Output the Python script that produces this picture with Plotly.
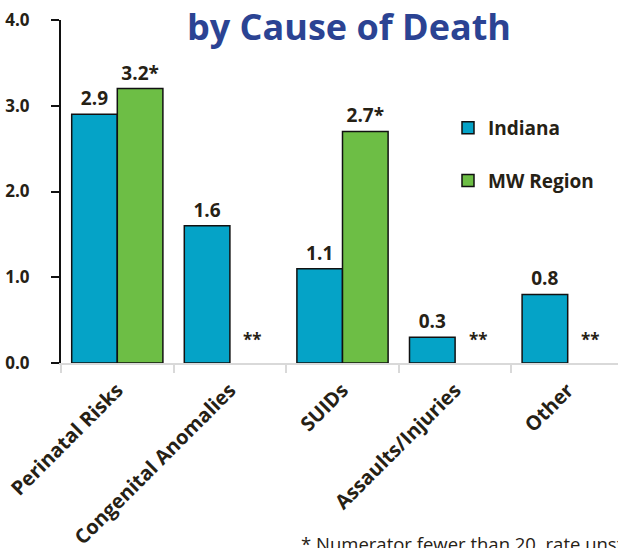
import plotly.graph_objects as go

categories = ["Perinatal Risks", "Congenital Anomalies", "SUIDs", "Assaults/Injuries", "Other"]
indiana = [2.9, 1.6, 1.1, 0.3, 0.8]
indiana_labels = ["2.9", "1.6", "1.1", "0.3", "0.8"]
mw_region = [3.2, None, 2.7, None, None]
mw_labels = ["3.2*", "", "2.7*", "", ""]
suppressed_label = "**"
y_ticks = [0, 1, 2, 3, 4]
y_tick_labels = ["0.0", "1.0", "2.0", "3.0", "4.0"]

TXT = "#262115"
BLUE = "#05A3C7"
GREEN = "#6DBE45"
FONT = "Open Sans"

fig = go.Figure()
fig.add_trace(go.Bar(
    name="Indiana", x=categories, y=indiana, text=indiana_labels,
    textposition="outside", cliponaxis=False,
    textfont=dict(family=FONT, size=19, color=TXT, weight="bold"),
    marker=dict(color=BLUE, line=dict(color="#111111", width=1.5)),
    legendgroup="a",
))
fig.add_trace(go.Bar(
    name="MW Region", x=categories, y=mw_region, text=mw_labels,
    textposition="outside", cliponaxis=False,
    textfont=dict(family=FONT, size=19, color=TXT, weight="bold"),
    marker=dict(color=GREEN, line=dict(color="#111111", width=1.5)),
    legendgroup="b",
))

annotations = []
for cat, v in zip(categories, mw_region):
    if v is None:
        annotations.append(dict(
            x=cat, y=0, xref="x", yref="y", text=suppressed_label, showarrow=False,
            xshift=23, yanchor="bottom", yshift=10,
            font=dict(family=FONT, size=17, color=TXT, weight="bold"),
        ))

annotations.append(dict(
    x=(349 - 61) / 557, y=(363 - 26) / 343, xref="paper", yref="paper",
    text="by Cause of Death", showarrow=False, xanchor="center", yanchor="middle",
    font=dict(family=FONT, size=36, color="#2B4393", weight="bold"),
))
annotations.append(dict(
    x=(299 - 61) / 557, y=(363 - 529) / 343, xref="paper", yref="paper",
    text="* Numerator fewer than 20, rate unstable", showarrow=False,
    xanchor="left", yanchor="top",
    font=dict(family=FONT, size=18.5, color=TXT),
))

fig.update_layout(
    width=618, height=548,
    margin=dict(l=61, r=0, t=20, b=185),
    paper_bgcolor="white", plot_bgcolor="white",
    barmode="group", bargap=0.19, bargroupgap=0,
    showlegend=True,
    legend=dict(
        x=(448 - 61) / 557, y=(363 - 109) / 343, xanchor="left", yanchor="top",
        font=dict(family=FONT, size=19, color=TXT, weight="bold"),
        tracegroupgap=25, traceorder="grouped", bgcolor="rgba(0,0,0,0)",
    ),
    annotations=annotations,
    xaxis=dict(
        range=[-0.5, -0.5 + 557 / 112.6], automargin=False,
        showline=True, linecolor="#D9D9D9", linewidth=1.5,
        ticks="outside", tickson="boundaries", ticklen=8, tickcolor="#D9D9D9", tickwidth=1.5,
        tickangle=-45, ticklabelstandoff=6,
        tickfont=dict(family=FONT, size=20, color=TXT, weight="bold"),
        showgrid=False, zeroline=False,
    ),
    yaxis=dict(
        range=[0, 4], tickvals=y_ticks, ticktext=y_tick_labels, automargin=False,
        showline=True, linecolor="#111111", linewidth=2,
        ticks="outside", ticklen=8, tickcolor="#111111", tickwidth=2,
        ticklabelstandoff=18,
        tickfont=dict(family=FONT, size=17, color=TXT, weight="bold"),
        showgrid=False, zeroline=False,
    ),
)

fig.write_html("out.html", config={"displayModeBar": False},
               post_script="document.body.style.margin='0';")
